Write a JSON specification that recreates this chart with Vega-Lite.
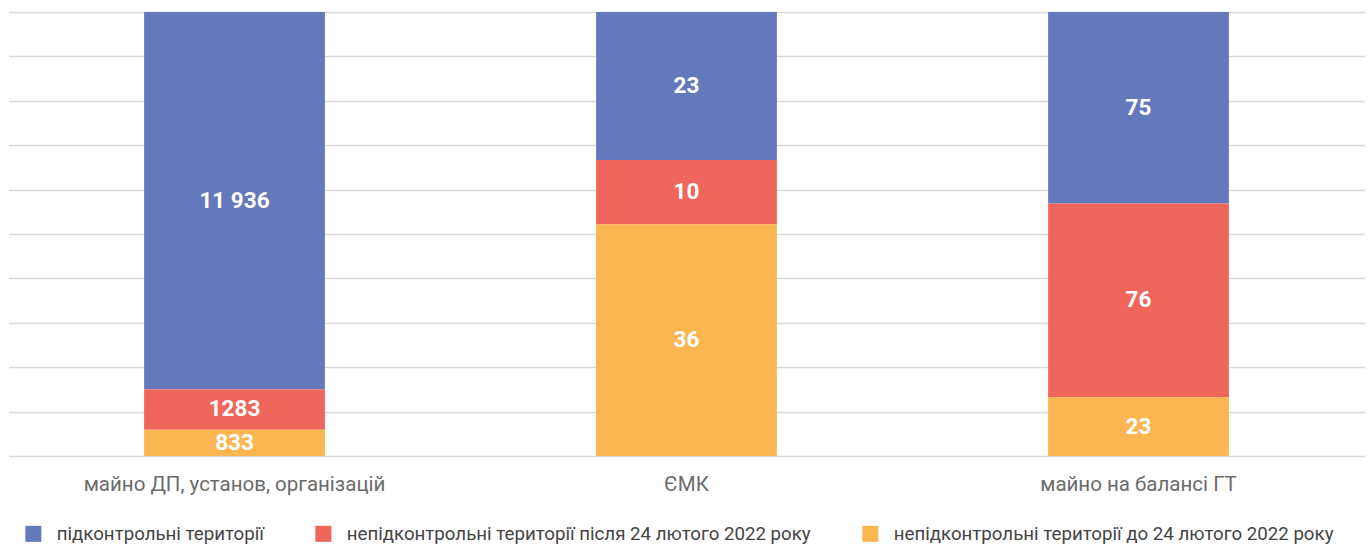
{
  "$schema": "https://vega.github.io/schema/vega-lite/v6.json",
  "width": 1356,
  "height": 444,
  "autosize": "none",
  "padding": {"left": 8.5, "top": 12, "right": 3.5, "bottom": 88},
  "background": "white",
  "config": {"view": {"stroke": null}, "font": "Roboto"},
  "data": {
    "values": [
      {"category": "майно ДП, установ, організацій", "series": "підконтрольні території", "ord": 3, "value": 11936, "label": "11 936"},
      {"category": "майно ДП, установ, організацій", "series": "непідконтрольні території після 24 лютого 2022 року", "ord": 2, "value": 1283, "label": "1283"},
      {"category": "майно ДП, установ, організацій", "series": "непідконтрольні території до 24 лютого 2022 року", "ord": 1, "value": 833, "label": "833"},
      {"category": "ЄМК", "series": "підконтрольні території", "ord": 3, "value": 23, "label": "23"},
      {"category": "ЄМК", "series": "непідконтрольні території після 24 лютого 2022 року", "ord": 2, "value": 10, "label": "10"},
      {"category": "ЄМК", "series": "непідконтрольні території до 24 лютого 2022 року", "ord": 1, "value": 36, "label": "36"},
      {"category": "майно на балансі ГТ", "series": "підконтрольні території", "ord": 3, "value": 75, "label": "75"},
      {"category": "майно на балансі ГТ", "series": "непідконтрольні території після 24 лютого 2022 року", "ord": 2, "value": 76, "label": "76"},
      {"category": "майно на балансі ГТ", "series": "непідконтрольні території до 24 лютого 2022 року", "ord": 1, "value": 23, "label": "23"}
    ]
  },
  "encoding": {
    "x": {
      "field": "category",
      "type": "nominal",
      "sort": null,
      "scale": {"paddingInner": 0.6, "paddingOuter": 0.3},
      "axis": {
        "title": null,
        "labelAngle": 0,
        "labelFont": "Roboto",
        "labelFontSize": 20.5,
        "labelColor": "#6b6b6b",
        "labelPadding": 18,
        "ticks": false,
        "domain": false,
        "labelLimit": 600
      }
    },
    "y": {
      "field": "value",
      "type": "quantitative",
      "stack": "normalize",
      "scale": {"domain": [0, 1], "nice": false},
      "axis": {
        "title": null,
        "labels": false,
        "ticks": false,
        "domain": false,
        "grid": true,
        "gridColor": "#d9d9d9",
        "gridWidth": 1.5,
        "values": [0, 0.1, 0.2, 0.3, 0.4, 0.5, 0.6, 0.7, 0.8, 0.9, 1]
      }
    },
    "order": {"field": "ord", "type": "quantitative", "sort": "ascending"}
  },
  "layer": [
    {
      "mark": {"type": "bar"},
      "encoding": {
        "color": {
          "field": "series",
          "type": "nominal",
          "scale": {
            "domain": ["підконтрольні території", "непідконтрольні території після 24 лютого 2022 року", "непідконтрольні території до 24 лютого 2022 року"],
            "range": ["#6479bc", "#f0665c", "#f9b651"]
          },
          "legend": {
            "title": null,
            "orient": "none",
            "direction": "horizontal",
            "legendX": 15.5,
            "legendY": 512,
            "padding": 0,
            "symbolType": "square",
            "symbolSize": 256,
            "symbolStrokeWidth": 0,
            "labelFont": "Roboto",
            "labelFontSize": 18.7,
            "labelColor": "#444444",
            "labelOffset": 14,
            "labelLimit": 700,
            "columnPadding": 50
          }
        }
      }
    },
    {
      "mark": {"type": "text", "font": "Roboto", "fontSize": 22.5, "fontWeight": "bold", "color": "white", "baseline": "middle"},
      "encoding": {
        "y": {"field": "value", "type": "quantitative", "stack": "normalize", "bandPosition": 0.5},
        "detail": {"field": "series", "type": "nominal"},
        "text": {"field": "label", "type": "nominal"}
      }
    }
  ]
}
